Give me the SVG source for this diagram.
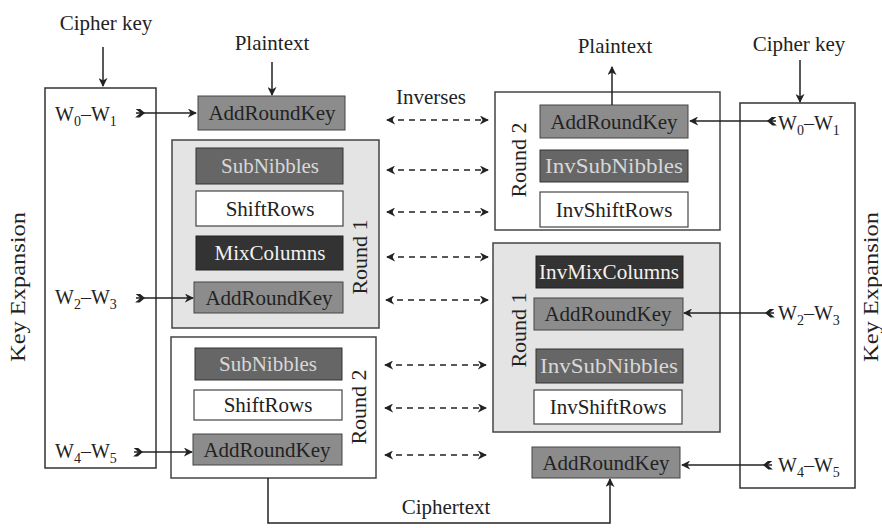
<svg xmlns="http://www.w3.org/2000/svg" width="882" height="528" viewBox="0 0 882 528">
<style>
text{font-family:"Liberation Serif","Times New Roman",serif;fill:#222}
.lbl{font-size:21px;text-anchor:middle}
.ext{font-size:21px;text-anchor:middle}
.rl{font-size:22px;text-anchor:middle}
.w{font-size:20px}
.w tspan.s{font-size:14px}
.frame{fill:#fff;stroke:#333;stroke-width:1.5}
.rnd{fill:#e4e4e4;stroke:#444;stroke-width:1.5}
.rndw{fill:#fff;stroke:#444;stroke-width:1.5}
.ark{fill:#8c8c8c;stroke:#444;stroke-width:1}
.sub{fill:#666;stroke:#333;stroke-width:1}
.mix{fill:#333;stroke:#222;stroke-width:1}
.wht{fill:#fff;stroke:#444;stroke-width:1.2}
.tl{fill:#d8d8d8}
.tw{fill:#f2f2f2}
.ln{stroke:#222;stroke-width:1.5;fill:none}
.dash{stroke:#222;stroke-width:1.3;stroke-dasharray:6 5;fill:none}
</style>
<defs>
<marker id="ah" viewBox="0 0 10 10" refX="9" refY="5" markerWidth="9" markerHeight="9" orient="auto-start-reverse" markerUnits="userSpaceOnUse"><path d="M0,0 L10,5 L0,10 L3,5 z" fill="#222"/></marker>
<marker id="tail" viewBox="0 0 12 10" refX="1" refY="5" markerWidth="11" markerHeight="9" orient="auto" markerUnits="userSpaceOnUse"><path d="M0,0 L6,5 L0,10 L5,10 L11,5 L5,0 z" fill="#222"/></marker>
</defs>

<g id="key-expansion-left">
<rect class="frame" x="45" y="88" width="111" height="380"/>
<text class="rl" transform="translate(25,287) rotate(-90)" textLength="150" lengthAdjust="spacingAndGlyphs">Key Expansion</text>
<text class="w" x="55" y="121">W<tspan class="s" dy="5">0</tspan><tspan dy="-5">–W</tspan><tspan class="s" dy="5">1</tspan></text>
<text class="w" x="55" y="304">W<tspan class="s" dy="5">2</tspan><tspan dy="-5">–W</tspan><tspan class="s" dy="5">3</tspan></text>
<text class="w" x="55" y="458">W<tspan class="s" dy="5">4</tspan><tspan dy="-5">–W</tspan><tspan class="s" dy="5">5</tspan></text>
</g>
<g id="cipher-key-left"><text class="ext" x="106" y="30">Cipher key</text></g>
<g id="plaintext-left"><text class="ext" x="272" y="50">Plaintext</text></g>

<g id="enc-ark0">
<rect class="ark" x="198" y="96" width="147" height="34"/>
<text class="lbl" x="272" y="120">AddRoundKey</text>
</g>
<g id="enc-round1">
<rect class="rnd" x="172" y="140" width="207" height="188"/>
<text class="rl" transform="translate(367,257) rotate(-90)">Round 1</text>
<rect class="sub" x="196" y="148" width="147" height="36"/>
<text class="lbl tl" x="270" y="173">SubNibbles</text>
<rect class="wht" x="196" y="191" width="147" height="35"/>
<text class="lbl" x="270" y="216">ShiftRows</text>
<rect class="mix" x="196" y="236" width="147" height="34"/>
<text class="lbl tw" x="270" y="260">MixColumns</text>
<rect class="ark" x="194" y="282" width="149" height="31"/>
<text class="lbl" x="269" y="305">AddRoundKey</text>
</g>
<g id="enc-round2">
<rect class="rndw" x="171" y="337" width="205" height="141"/>
<text class="rl" transform="translate(366,407) rotate(-90)">Round 2</text>
<rect class="sub" x="195" y="348" width="147" height="32"/>
<text class="lbl tl" x="268" y="371">SubNibbles</text>
<rect class="wht" x="194" y="390" width="148" height="30"/>
<text class="lbl" x="268" y="412">ShiftRows</text>
<rect class="ark" x="193" y="434" width="149" height="31"/>
<text class="lbl" x="267" y="457">AddRoundKey</text>
</g>

<g id="inverses"><text class="ext" x="431" y="104" font-size="19">Inverses</text></g>

<g id="dec-round2">
<rect class="rndw" x="495" y="92" width="225" height="138"/>
<text class="rl" transform="translate(526,160) rotate(-90)">Round 2</text>
<rect class="ark" x="540" y="105" width="148" height="33"/>
<text class="lbl" x="614" y="129">AddRoundKey</text>
<rect class="sub" x="540" y="150" width="148" height="32"/>
<text class="lbl tl" x="614" y="173" textLength="138" lengthAdjust="spacingAndGlyphs">InvSubNibbles</text>
<rect class="wht" x="540" y="192" width="148" height="35"/>
<text class="lbl" x="614" y="217">InvShiftRows</text>
</g>
<g id="dec-round1">
<rect class="rnd" x="493" y="243" width="227" height="189"/>
<text class="rl" transform="translate(526,330) rotate(-90)">Round 1</text>
<rect class="mix" x="536" y="256" width="147" height="32"/>
<text class="lbl tw" x="609" y="279" textLength="140" lengthAdjust="spacingAndGlyphs">InvMixColumns</text>
<rect class="ark" x="534" y="298" width="149" height="32"/>
<text class="lbl" x="608" y="321">AddRoundKey</text>
<rect class="sub" x="536" y="349" width="147" height="34"/>
<text class="lbl tl" x="609" y="373" textLength="138" lengthAdjust="spacingAndGlyphs">InvSubNibbles</text>
<rect class="wht" x="534" y="390" width="148" height="34"/>
<text class="lbl" x="608" y="414">InvShiftRows</text>
</g>
<g id="dec-ark-final">
<rect class="ark" x="532" y="447" width="148" height="31"/>
<text class="lbl" x="606" y="470">AddRoundKey</text>
</g>

<g id="key-expansion-right">
<rect class="frame" x="740" y="103" width="115" height="385"/>
<text class="rl" transform="translate(878,287) rotate(-90)" textLength="150" lengthAdjust="spacingAndGlyphs">Key Expansion</text>
<text class="w" x="778" y="130">W<tspan class="s" dy="5">0</tspan><tspan dy="-5">–W</tspan><tspan class="s" dy="5">1</tspan></text>
<text class="w" x="778" y="320">W<tspan class="s" dy="5">2</tspan><tspan dy="-5">–W</tspan><tspan class="s" dy="5">3</tspan></text>
<text class="w" x="778" y="472">W<tspan class="s" dy="5">4</tspan><tspan dy="-5">–W</tspan><tspan class="s" dy="5">5</tspan></text>
</g>
<g id="cipher-key-right"><text class="ext" x="799" y="51">Cipher key</text></g>
<g id="plaintext-right"><text class="ext" x="615" y="53">Plaintext</text></g>
<g id="ciphertext"><text class="ext" x="446" y="514">Ciphertext</text></g>

<g id="connectors">
<line class="ln" x1="103" y1="47" x2="103" y2="86" marker-end="url(#ah)"/>
<line class="ln" x1="272" y1="62" x2="272" y2="95" marker-end="url(#ah)"/>
<line class="ln" x1="136" y1="113" x2="196" y2="113" marker-start="url(#tail)" marker-end="url(#ah)"/>
<line class="ln" x1="136" y1="298" x2="193" y2="298" marker-start="url(#tail)" marker-end="url(#ah)"/>
<line class="ln" x1="134" y1="452" x2="192" y2="452" marker-start="url(#tail)" marker-end="url(#ah)"/>
<polyline class="ln" points="268,478 268,523 610,523 610,479" marker-end="url(#ah)"/>
<line class="ln" x1="612" y1="105" x2="612" y2="67" marker-end="url(#ah)"/>
<line class="ln" x1="800" y1="60" x2="800" y2="102" marker-end="url(#ah)"/>
<line class="ln" x1="776" y1="121" x2="690" y2="121" marker-start="url(#tail)" marker-end="url(#ah)"/>
<line class="ln" x1="774" y1="313" x2="684" y2="313" marker-start="url(#tail)" marker-end="url(#ah)"/>
<line class="ln" x1="772" y1="465" x2="682" y2="465" marker-start="url(#tail)" marker-end="url(#ah)"/>
<line class="dash" x1="387" y1="120" x2="488" y2="120" marker-start="url(#ah)" marker-end="url(#ah)"/>
<line class="dash" x1="387" y1="170" x2="488" y2="170" marker-start="url(#ah)" marker-end="url(#ah)"/>
<line class="dash" x1="387" y1="212" x2="488" y2="212" marker-start="url(#ah)" marker-end="url(#ah)"/>
<line class="dash" x1="387" y1="257" x2="488" y2="257" marker-start="url(#ah)" marker-end="url(#ah)"/>
<line class="dash" x1="386" y1="300" x2="488" y2="300" marker-start="url(#ah)" marker-end="url(#ah)"/>
<line class="dash" x1="385" y1="365" x2="486" y2="365" marker-start="url(#ah)" marker-end="url(#ah)"/>
<line class="dash" x1="385" y1="408" x2="486" y2="408" marker-start="url(#ah)" marker-end="url(#ah)"/>
<line class="dash" x1="385" y1="455" x2="486" y2="455" marker-start="url(#ah)" marker-end="url(#ah)"/>
</g>
</svg>
